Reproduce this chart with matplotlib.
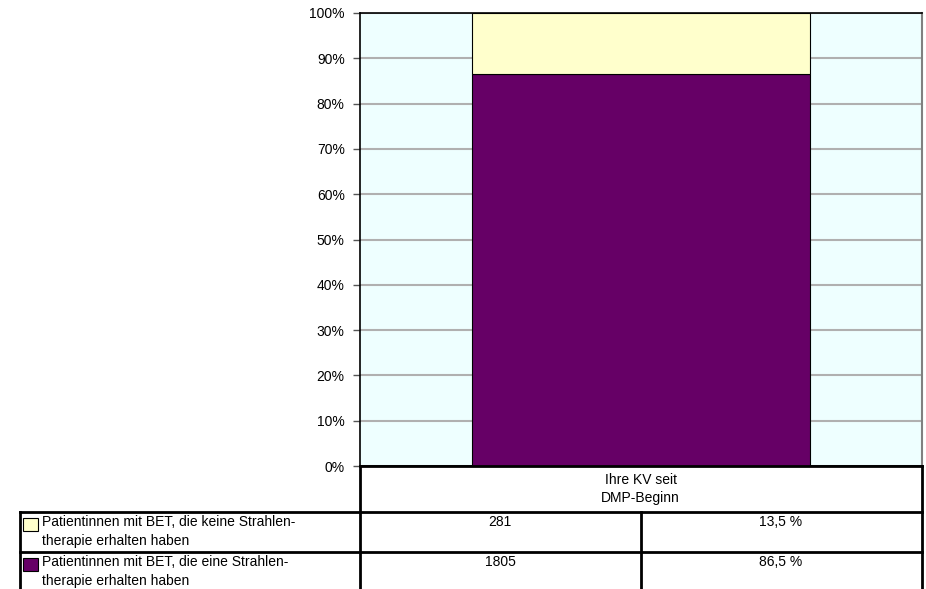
import matplotlib
matplotlib.use("Agg")
import matplotlib.pyplot as plt
from matplotlib.lines import Line2D
from matplotlib.patches import Rectangle

plt.rcParams['font.family'] = ['Liberation Sans', 'DejaVu Sans']

category = "Ihre KV seit\nDMP-Beginn"
series_labels = ["Patientinnen mit BET, die keine Strahlen-\ntherapie erhalten haben",
                 "Patientinnen mit BET, die eine Strahlen-\ntherapie erhalten haben"]
counts = [281, 1805]
percents = [13.5, 86.5]
colors = ["#FFFFCC", "#660066"]
yticks = [0, 10, 20, 30, 40, 50, 60, 70, 80, 90, 100]

W, H = 926, 589
fig = plt.figure(figsize=(W / 100, H / 100), dpi=100)

def fx(px):
    return px / W

def fy(py):
    return 1 - py / H

ax_l, ax_r, ax_t, ax_b = 360, 922, 13, 466
ax = fig.add_axes([fx(ax_l), fy(ax_b), fx(ax_r) - fx(ax_l), fy(ax_t) - fy(ax_b)])
ax.set_facecolor("#EEFFFF")
ax.set_xlim(-0.5, 0.5)
ax.set_ylim(0, 100)

# stacked bar: bottom = radiation therapy (purple), top = no radiation (yellow)
bottom = 0
for i in [1, 0]:
    ax.bar(0, percents[i], width=0.6, bottom=bottom, color=colors[i],
           edgecolor="black", linewidth=0.8, zorder=3)
    bottom += percents[i]

ax.set_yticks(yticks)
ax.set_yticklabels([f"{v}%" for v in yticks], fontsize=10)
ax.yaxis.grid(True, color="#B0B0B0", linewidth=1.5, zorder=0)
ax.set_axisbelow(True)
ax.set_xticks([])
ax.tick_params(axis='y', length=5, width=1, color="#555555", pad=6)
for s in ["top", "left", "bottom"]:
    ax.spines[s].set_color("black")
    ax.spines[s].set_linewidth(1.2)
ax.spines["right"].set_color("#808080")
ax.spines["right"].set_linewidth(1.5)

# table lines
lw = 2.0
tbl_left, tbl_mid, tbl_right = 20, 640.5, 921.5

def hline(y, x0, x1):
    fig.add_artist(Line2D([fx(x0), fx(x1)], [fy(y), fy(y)], color="black", lw=lw))

def vline(x, y0, y1):
    fig.add_artist(Line2D([fx(x), fx(x)], [fy(y0), fy(y1)], color="black", lw=lw))

hline(466, ax_l, tbl_right)
hline(512, tbl_left, tbl_right)
hline(552, tbl_left, tbl_right)
vline(ax_l, 466, H)
vline(tbl_right, 466, H)
vline(tbl_left, 512, H)
vline(tbl_mid, 512, H)

fig.text(fx((ax_l + tbl_right) / 2), fy(489), category, ha="center", va="center",
         fontsize=10, linespacing=1.3)

row_tops = [512, 552]
for i in range(2):
    top = row_tops[i]
    fig.add_artist(Rectangle((fx(23), fy(top + 19)), fx(15), 13 / H,
                             facecolor=colors[i], edgecolor="black", lw=0.8))
    fig.text(fx(42), fy(top + 3), series_labels[i], ha="left", va="top",
             fontsize=10, linespacing=1.45)
    fig.text(fx((ax_l + tbl_mid) / 2), fy(top + 3), f"{counts[i]}", ha="center",
             va="top", fontsize=10)
    fig.text(fx((tbl_mid + tbl_right) / 2), fy(top + 3),
             f"{percents[i]:.1f} %".replace(".", ","), ha="center", va="top", fontsize=10)

fig.savefig("out.png", dpi=100)
